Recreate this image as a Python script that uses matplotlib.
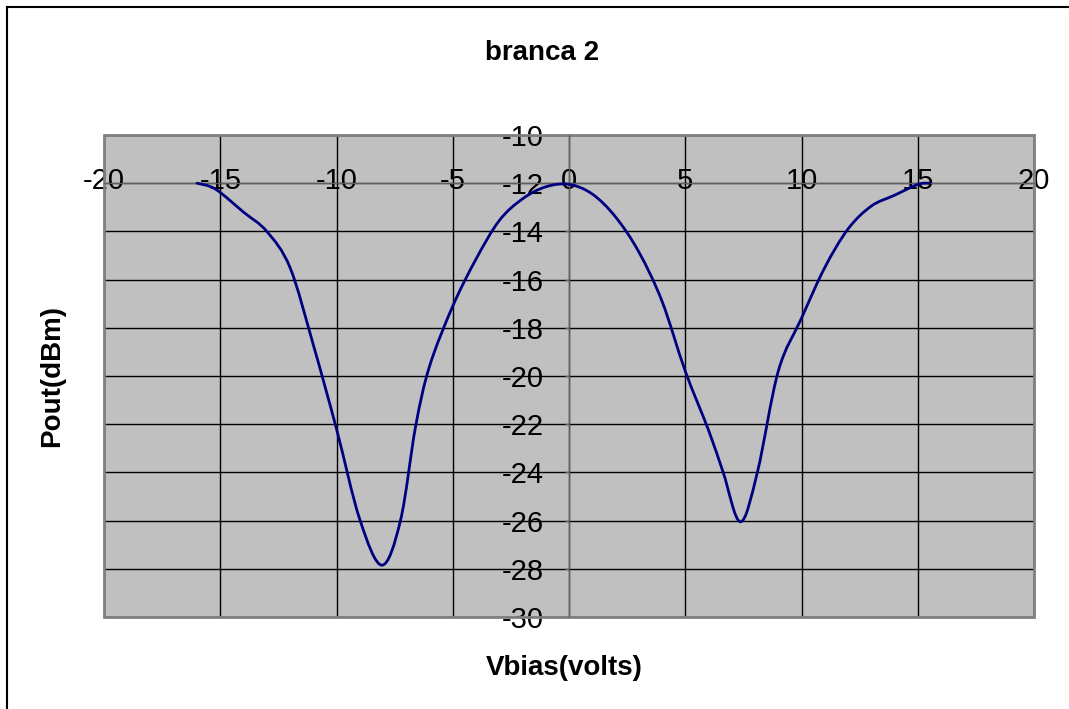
import matplotlib
matplotlib.use("Agg")
import matplotlib.pyplot as plt
from matplotlib.lines import Line2D
from matplotlib.path import Path
from matplotlib.patches import PathPatch
import numpy as np

plt.rcParams['font.family'] = ['Liberation Sans', 'DejaVu Sans']

# valeurs
vbias = [-16, -15.2, -14, -13, -12, -11, -10, -9, -8.05, -7.25, -6.6, -6, -5, -4, -3, -2, -1, 0,
         1, 2, 3, 4, 5, 6, 6.63, 7.37, 8.1, 9, 10, 11, 12, 13, 14, 15, 15.5]
pout = [-12.0, -12.25, -13.2, -14.0, -15.5, -18.7, -22.2, -25.95, -27.85, -26.0, -22.1, -19.6,
        -17.1, -15.15, -13.55, -12.65, -12.15, -12.05,
        -12.45, -13.4, -14.85, -16.9, -19.8, -22.25, -24.0, -26.05, -24.0, -19.8, -17.6,
        -15.5, -13.9, -12.95, -12.5, -12.05, -12.0]

x_ticks = [-20, -15, -10, -5, 0, 5, 10, 15, 20]
y_ticks = [-30, -28, -26, -24, -22, -20, -18, -16, -14, -12, -10]


def courbe_lissee(xs, ys):
    # ligne lissée façon excel : bezier passant par chaque point
    p = np.column_stack([xs, ys])
    verts = [p[0]]
    codes = [Path.MOVETO]
    for i in range(len(p) - 1):
        a = p[i - 1] if i > 0 else p[i]
        b = p[i + 2] if i + 2 < len(p) else p[i + 1]
        verts += [p[i] + (p[i + 1] - a) / 6, p[i + 1] - (b - p[i]) / 6, p[i + 1]]
        codes += [Path.CURVE4] * 3
    return Path(verts, codes)


fig = plt.figure(figsize=(10.69, 7.09), dpi=100)
ax = fig.add_axes([0.0973, 0.1298, 0.87, 0.6798])
ax.set_facecolor('#c0c0c0')

ax.add_patch(PathPatch(courbe_lissee(vbias, pout), facecolor='none', edgecolor='#000080',
                       lw=2, capstyle='round', zorder=3))

ax.set_xlim(-20, 20)
ax.set_ylim(-30, -10)
ax.set_xticks(x_ticks)
ax.set_yticks(y_ticks)
ax.grid(True, color='black', lw=1)
ax.set_axisbelow(True)

# axes qui se croisent comme dans excel
ax.spines['left'].set_position(('data', 0))
ax.spines['bottom'].set_position(('data', -12))
ax.spines['left'].set_color('#606060')
ax.spines['bottom'].set_color('#606060')
ax.spines['left'].set_zorder(2)
ax.spines['bottom'].set_zorder(2)
for s in ['top', 'right']:
    ax.spines[s].set_visible(False)

ax.tick_params(axis='y', direction='out', length=3, width=1, color='#606060',
               pad=15, labelsize=21)
ax.tick_params(axis='x', direction='out', length=0, pad=-11.5, labelsize=21)
ax.set_xticklabels([str(v) for v in x_ticks])
ax.set_yticklabels([str(v) for v in y_ticks])

# cadre gris de la zone de tracé
ax.add_patch(plt.Rectangle((0, 0), 1, 1, transform=ax.transAxes, fill=False,
                           edgecolor='#808080', lw=2, zorder=1, clip_on=False))

fig.text(0.507, 0.925, 'branca 2', ha='center', va='center', fontsize=20, fontweight='bold')
fig.text(0.528, 0.058, 'Vbias(volts)', ha='center', va='center', fontsize=20, fontweight='bold')
fig.text(0.049, 0.47, 'Pout(dBm)', ha='center', va='center', rotation=90,
         fontsize=20, fontweight='bold')

# bord de la zone de graphique
fig.add_artist(Line2D([6.5 / 1069, 6.5 / 1069], [0, 1 - 7 / 709], color='black', lw=1.5))
fig.add_artist(Line2D([6.5 / 1069, 1], [1 - 7 / 709, 1 - 7 / 709], color='black', lw=1.5))

fig.savefig('out.png', dpi=100)
